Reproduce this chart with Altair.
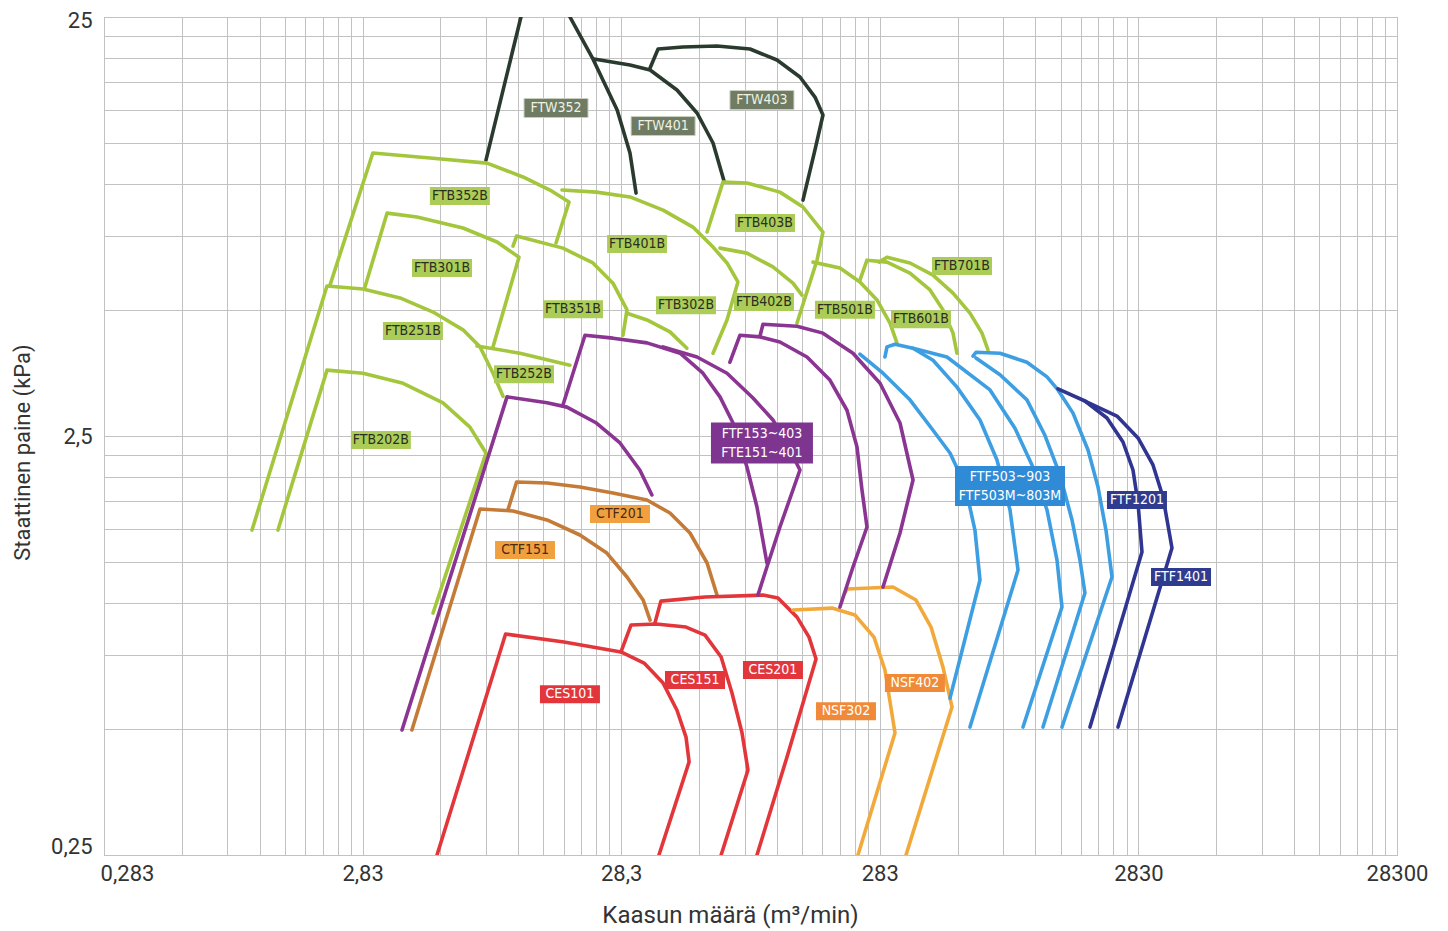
import altair as alt
import pandas as pd

# ---------------- axis ticks ----------------
x_tick_values = [0.283, 2.83, 28.3, 283, 2830, 28300]
x_tick_labels = ["0,283", "2,83", "28,3", "283", "2830", "28300"]
y_tick_values = [0.25, 2.5, 25]
y_tick_labels = ["0,25", "2,5", "25"]

x_grid = [round(0.283 * k * 10 ** d, 6) for d in range(5) for k in range(1, 10)] + [28300]
y_grid = [round(0.25 * k * 10 ** d, 6) for d in range(2) for k in range(1, 10)] + [25]

# ---------------- curves (m3/min, kPa) ----------------
ftw352a_x = [8.49, 11.59]
ftw352a_y = [11.39, 25.0]
ftw352b_x = [17.93, 22.0, 27.3, 30.6, 32.3]
ftw352b_y = [25.0, 19.85, 15.0, 11.84, 9.50]
ftw401_x = [22.2, 30.6, 36.6, 46.5, 55.6, 64.1, 70.7]
ftw401_y = [19.85, 19.2, 18.68, 16.74, 14.75, 12.51, 10.15]
ftw403_x = [36.6, 39.3, 49.0, 66.4, 89.1, 113.3, 139.0, 158.9, 170.6, 158.9, 142.8]
ftw403_y = [18.89, 20.97, 21.2, 21.32, 20.97, 19.74, 17.98, 16.1, 14.59, 12.04, 9.14]

ftb352b_x = [2.117, 3.10, 5.16, 8.57, 11.80, 15.01, 17.78, 15.84]
ftb352b_y = [5.73, 11.84, 11.52, 11.2, 10.38, 9.66, 9.04, 7.22]
ftb301b_x = [2.89, 3.52, 4.59, 6.92, 9.37, 11.39, 9.04]
ftb301b_y = [5.67, 8.51, 8.33, 7.84, 7.26, 6.68, 4.08]
ftb251b_x = [1.057, 2.061, 2.84, 3.95, 5.30, 6.92, 8.05, 9.04, 9.88]
ftb251b_y = [1.491, 5.70, 5.61, 5.34, 4.94, 4.48, 4.08, 3.53, 3.11]
ftb252b_x = [7.84, 11.49, 17.93]
ftb252b_y = [4.10, 3.94, 3.69]
ftb202b_x = [1.332, 2.061, 2.84, 4.06, 5.79, 7.36, 8.49, 5.30]
ftb202b_y = [1.491, 3.59, 3.53, 3.34, 3.00, 2.625, 2.277, 0.945]
ftb351b_x = [10.80, 11.15, 16.85, 22.0, 26.3, 29.8, 28.75]
ftb351b_y = [7.10, 7.50, 7.02, 6.47, 5.79, 5.0, 4.35]
ftb302b_x = [29.8, 35.6, 43.7, 50.8]
ftb302b_y = [4.91, 4.73, 4.43, 4.05]
ftb401b_x = [16.7, 22.7, 30.6, 41.1, 53.6, 64.1, 72.6, 80.0, 72.6, 64.1]
ftb401b_y = [9.66, 9.55, 9.30, 8.65, 7.88, 7.06, 6.47, 5.83, 4.73, 3.94]
ftb403b_x = [60.8, 70.0, 86.7, 116.3, 142.8, 170.6, 161.8, 135.4]
ftb403b_y = [7.67, 10.09, 10.04, 9.55, 8.80, 7.67, 6.57, 4.65]
ftb402b_x = [68.2, 86.7, 109.3, 130.6, 141.5]
ftb402b_y = [7.02, 6.83, 6.33, 5.79, 5.42]
ftb501b_x = [156.1, 198.5, 237.1, 276.0, 309.9, 329.7]
ftb501b_y = [6.50, 6.29, 5.83, 5.28, 4.65, 4.17]
ftb601b_x = [237.1, 252.5, 301.7, 370.2, 442.6, 496.7, 543.1, 562.6]
ftb601b_y = [5.89, 6.57, 6.50, 6.12, 5.58, 5.0, 4.40, 3.94]
ftb701b_x = [281.0, 301.7, 370.2, 454.6, 543.1, 631.7, 703.0, 741.7]
ftb701b_y = [6.50, 6.68, 6.47, 6.05, 5.48, 4.91, 4.40, 4.01]

ctf151_x = [4.39, 8.05, 10.80, 14.62, 19.6, 24.9, 29.8, 34.4, 36.6]
ctf151_y = [0.497, 1.674, 1.656, 1.576, 1.451, 1.314, 1.152, 1.015, 0.909]
ctf201_x = [10.32, 11.15, 14.62, 19.6, 26.3, 35.6, 43.7, 52.2, 60.8, 66.4]
ctf201_y = [1.665, 1.941, 1.931, 1.889, 1.828, 1.759, 1.637, 1.467, 1.244, 1.043]

ces101_x = [5.49, 10.11, 17.0, 28.25, 34.7, 41.1, 46.5, 50.4, 51.8, 39.6]
ces101_y = [0.25, 0.842, 0.806, 0.763, 0.718, 0.643, 0.554, 0.478, 0.417, 0.25]
ces151_x = [28.25, 30.9, 38.6, 50.4, 59.7, 68.9, 75.9, 83.0, 87.5, 68.9]
ces151_y = [0.763, 0.885, 0.890, 0.875, 0.837, 0.742, 0.609, 0.489, 0.399, 0.25]
ces201_x = [38.2, 40.3, 59.7, 100.0, 114.3, 135.4, 150.7, 160.4, 122.8, 94.8]
ces201_y = [0.894, 1.009, 1.032, 1.043, 1.026, 0.924, 0.828, 0.734, 0.421, 0.25]
nsf302_x = [130.6, 184.9, 226.8, 268.7, 296.3, 324.0, 233.0]
nsf302_y = [0.961, 0.971, 0.935, 0.828, 0.691, 0.489, 0.25]
nsf402_x = [207.5, 211.3, 318.3, 390.5, 446.5, 496.7, 538.3, 357.4]
nsf402_y = [1.055, 1.078, 1.090, 1.015, 0.875, 0.702, 0.564, 0.25]

ftf1_x = [4.02, 10.24, 14.62, 17.46, 22.7, 28.0, 33.4, 37.2]
ftf1_y = [0.497, 3.10, 3.00, 2.93, 2.685, 2.406, 2.074, 1.808]
ftf2_x = [16.85, 20.5, 26.3, 35.6, 47.8, 58.6, 68.2, 76.6, 86.7, 94.8, 103.6]
ftf2_y = [2.965, 4.35, 4.28, 4.17, 3.94, 3.53, 3.10, 2.685, 2.108, 1.692, 1.244]
ftf3_x = [41.1, 55.6, 72.6, 91.5, 109.3, 127.1, 139.0, 116.3, 103.6, 95.6]
ftf3_y = [4.08, 3.86, 3.53, 3.08, 2.73, 2.315, 2.074, 1.516, 1.217, 1.043]
ftf4_x = [74.5, 81.5, 97.4, 116.3, 148.0, 181.5, 211.3, 231.0, 241.5, 252.5, 222.9, 198.5]
ftf4_y = [3.75, 4.35, 4.31, 4.19, 3.86, 3.40, 2.88, 2.353, 1.858, 1.516, 1.217, 0.977]
ftf5_x = [97.4, 100.0, 135.4, 170.6, 222.9, 283.6, 338.8, 380.4, 338.8, 291.2]
ftf5_y = [4.33, 4.62, 4.57, 4.40, 3.94, 3.34, 2.685, 1.963, 1.467, 1.090]

ftfb1_x = [237.1, 291.2, 370.2, 454.6, 528.7, 604.2, 660.2, 690.6, 528.7]
ftfb1_y = [3.92, 3.53, 3.05, 2.58, 2.277, 1.910, 1.491, 1.133, 0.592]
ftfb2_x = [296.3, 301.7, 324.0, 380.4, 454.6, 562.6, 690.6, 803.4, 902.2, 969.0, 631.7]
ftfb2_y = [3.86, 4.08, 4.14, 4.05, 3.79, 3.27, 2.73, 2.191, 1.665, 1.197, 0.505]
ftfb3_x = [380.4, 514.7, 755.0, 942.9, 1097, 1254, 1371, 1433, 1013]
ftfb3_y = [4.05, 3.86, 3.22, 2.61, 2.132, 1.665, 1.264, 0.977, 0.505]
ftfb4_x = [666.3, 825.3, 1049, 1231, 1408, 1567, 1682, 1758, 1210]
ftfb4_y = [3.84, 3.50, 3.05, 2.51, 2.018, 1.576, 1.264, 1.055, 0.505]
ftfb5_x = [648.9, 666.3, 825.3, 1049, 1254, 1383, 1581, 1807, 1975, 2120, 2237, 1433]
ftfb5_y = [3.88, 3.96, 3.94, 3.75, 3.46, 3.22, 2.835, 2.315, 1.889, 1.491, 1.152, 0.505]
ftf1201_x = [1383, 1758, 2139, 2467, 2697, 2820, 2922, 1839]
ftf1201_y = [3.24, 3.03, 2.76, 2.419, 2.074, 1.730, 1.321, 0.505]
ftf1401_x = [1758, 2338, 2820, 3222, 3523, 3816, 2360]
ftf1401_y = [3.03, 2.79, 2.473, 2.132, 1.788, 1.351, 0.505]

curves = [
    ("FTW352a", "FTW", ftw352a_x, ftw352a_y),
    ("FTW352b", "FTW", ftw352b_x, ftw352b_y),
    ("FTW401", "FTW", ftw401_x, ftw401_y),
    ("FTW403", "FTW", ftw403_x, ftw403_y),
    ("FTB352B", "FTB", ftb352b_x, ftb352b_y),
    ("FTB301B", "FTB", ftb301b_x, ftb301b_y),
    ("FTB251B", "FTB", ftb251b_x, ftb251b_y),
    ("FTB252B", "FTB", ftb252b_x, ftb252b_y),
    ("FTB202B", "FTB", ftb202b_x, ftb202b_y),
    ("FTB351B", "FTB", ftb351b_x, ftb351b_y),
    ("FTB302B", "FTB", ftb302b_x, ftb302b_y),
    ("FTB401B", "FTB", ftb401b_x, ftb401b_y),
    ("FTB403B", "FTB", ftb403b_x, ftb403b_y),
    ("FTB402B", "FTB", ftb402b_x, ftb402b_y),
    ("FTB501B", "FTB", ftb501b_x, ftb501b_y),
    ("FTB601B", "FTB", ftb601b_x, ftb601b_y),
    ("FTB701B", "FTB", ftb701b_x, ftb701b_y),
    ("CTF151", "CTF", ctf151_x, ctf151_y),
    ("CTF201", "CTF", ctf201_x, ctf201_y),
    ("CES101", "CES", ces101_x, ces101_y),
    ("CES151", "CES", ces151_x, ces151_y),
    ("CES201", "CES", ces201_x, ces201_y),
    ("NSF302", "NSF", nsf302_x, nsf302_y),
    ("NSF402", "NSF", nsf402_x, nsf402_y),
    ("FTF-1", "FTF", ftf1_x, ftf1_y),
    ("FTF-2", "FTF", ftf2_x, ftf2_y),
    ("FTF-3", "FTF", ftf3_x, ftf3_y),
    ("FTF-4", "FTF", ftf4_x, ftf4_y),
    ("FTF-5", "FTF", ftf5_x, ftf5_y),
    ("FTFB-1", "FTF5", ftfb1_x, ftfb1_y),
    ("FTFB-2", "FTF5", ftfb2_x, ftfb2_y),
    ("FTFB-3", "FTF5", ftfb3_x, ftfb3_y),
    ("FTFB-4", "FTF5", ftfb4_x, ftfb4_y),
    ("FTFB-5", "FTF5", ftfb5_x, ftfb5_y),
    ("FTF1201", "FTF12", ftf1201_x, ftf1201_y),
    ("FTF1401", "FTF12", ftf1401_x, ftf1401_y),
]

# ---------------- labels ----------------
label_text = ["FTW352", "FTW401", "FTW403", "FTB352B", "FTB301B", "FTB401B", "FTB403B",
              "FTB701B", "FTB351B", "FTB302B", "FTB402B", "FTB501B", "FTB601B", "FTB251B",
              "FTB252B", "FTB202B", "FTF153~403\nFTE151~401", "FTF503~903\nFTF503M~803M",
              "FTF1201", "FTF1401", "CTF201", "CTF151", "CES101", "CES151", "CES201",
              "NSF302", "NSF402"]
label_x = [15.84, 41.1, 99.1, 6.73, 5.74, 32.6, 101.8, 588.4, 18.42, 50.4, 100.9, 207.5,
           408.4, 4.43, 11.91, 3.33, 99.1, 902.2, 2794, 4136, 28.0, 12.02, 17.93, 54.6,
           109.3, 209.4, 386.9]
label_y = [15.16, 13.73, 15.84, 9.35, 6.29, 7.18, 8.06, 6.36, 5.02, 5.13, 5.22, 5.0, 4.75,
           4.45, 3.51, 2.446, 2.406, 1.899, 1.759, 1.152, 1.628, 1.336, 0.605, 0.654,
           0.691, 0.551, 0.643]
label_group = ["FTW", "FTW", "FTW"] + ["FTB"] * 13 + ["FTF", "FTF5", "FTF12", "FTF12",
               "CTF", "CTF", "CES", "CES", "CES", "NSF", "NSF"]

groups = ["FTW", "FTB", "FTF", "FTF5", "FTF12", "CTF", "CES", "NSF"]
line_colors = ["#2a3a2e", "#a3c63c", "#8b3592", "#3d9fe2", "#2f3590", "#c47b38", "#e3363a", "#f2a93b"]
box_colors = ["#6f7b63", "#abcd58", "#7e3590", "#2f8bd6", "#2f3b8e", "#f1a040", "#e2363c", "#f08a38"]
text_colors = ["#eef2e2", "#2c2d22", "#ffffff", "#ffffff", "#ffffff", "#4a2a10", "#ffffff", "#ffffff"]

rows = []
for name, g, xs, ys in curves:
    for i, (xv, yv) in enumerate(zip(xs, ys)):
        rows.append({"curve": name, "group": g, "i": i, "x": xv, "y": yv})
lines_df = pd.DataFrame(rows)
labels_df = pd.DataFrame({"text": label_text, "x": label_x, "y": label_y, "group": label_group})


def label_expr(vals, labs):
    parts = [f"abs(datum.value - {v}) < {v * 0.01} ? '{l}' : " for v, l in zip(vals, labs)]
    return "".join(parts) + "''"


FONT = "Roboto"
x_scale = alt.Scale(type="log", domain=[0.283, 28300], nice=False)
y_scale = alt.Scale(type="log", domain=[0.25, 25], nice=False)

x_axis = alt.Axis(values=x_grid, labelExpr=label_expr(x_tick_values, x_tick_labels),
                  grid=True, gridColor="#c2c2c2", gridWidth=1, ticks=False, domain=False,
                  labelOverlap=False, labelFlush=False, labelFont=FONT, labelFontSize=22,
                  labelColor="#333333", labelPadding=8,
                  labelOffset={"condition": {"test": "datum.value < 1", "value": 23}, "value": 0},
                  title="Kaasun määrä (m³/min)", titleFont=FONT, titleFontSize=24,
                  titleFontWeight="normal", titleColor="#333333", titleX=626, titleY=60,
                  titleBaseline="middle")
y_axis = alt.Axis(values=y_grid, labelExpr=label_expr(y_tick_values, y_tick_labels),
                  grid=True, gridColor="#c2c2c2", gridWidth=1, ticks=False, domain=False,
                  labelOverlap=False, labelFlush=False, labelFont=FONT, labelFontSize=22,
                  labelColor="#333333", labelPadding=12,
                  labelOffset={"condition": [{"test": "datum.value < 0.3", "value": -9},
                                             {"test": "datum.value > 20", "value": 3}],
                               "value": 0},
                  title="Staattinen paine (kPa)", titleFont=FONT, titleFontSize=22,
                  titleFontWeight="normal", titleColor="#333333", titleX=-82, titleY=435,
                  titleBaseline="middle")

xy = dict(x=alt.X("x:Q", scale=x_scale, axis=x_axis),
          y=alt.Y("y:Q", scale=y_scale, axis=y_axis))

lines = alt.Chart(lines_df).mark_line(strokeWidth=3.6, strokeJoin="round", strokeCap="round",
                                      clip=True).encode(
    detail="curve:N",
    order="i:Q",
    color=alt.Color("group:N", scale=alt.Scale(domain=groups, range=line_colors), legend=None),
    **xy,
)

fill_enc = alt.Fill("group:N", scale=alt.Scale(domain=groups, range=box_colors), legend=None)
text_color = alt.Color("group:N", scale=alt.Scale(domain=groups, range=text_colors), legend=None)
base_lab = alt.Chart(labels_df)

rect_ftw = base_lab.transform_filter("datum.group == 'FTW'").mark_rect(
    width=64, height=19, stroke="#c9cfbf", strokeWidth=1).encode(fill=fill_enc, **xy)
rect_small = base_lab.transform_filter(
    "datum.group != 'FTW' && datum.group != 'FTF' && datum.group != 'FTF5'").mark_rect(
    width=60, height=18).encode(fill=fill_enc, **xy)
rect_ftf = base_lab.transform_filter("datum.group == 'FTF'").mark_rect(
    width=102, height=41).encode(fill=fill_enc, **xy)
rect_ftf5 = base_lab.transform_filter("datum.group == 'FTF5'").mark_rect(
    width=110, height=40).encode(fill=fill_enc, **xy)

LABEL_FONT = "DejaVu Sans Condensed, Liberation Sans Narrow, Roboto"
texts_single = base_lab.transform_filter(
    "datum.group != 'FTF' && datum.group != 'FTF5'").mark_text(
    font=LABEL_FONT, fontSize=14, align="center", baseline="middle").encode(
    text="text:N", color=text_color, **xy)
texts_multi = base_lab.transform_filter(
    "datum.group == 'FTF' || datum.group == 'FTF5'").mark_text(
    font=LABEL_FONT, fontSize=14, lineBreak="\n", lineHeight=19, align="center",
    baseline="middle", dy=-9).encode(
    text="text:N", color=text_color, **xy)

chart = alt.layer(lines, rect_ftw, rect_small, rect_ftf, rect_ftf5, texts_single,
                  texts_multi).resolve_scale(
    color="independent"
).properties(
    width=1293, height=838,
    padding={"left": 96, "top": 9, "right": 42, "bottom": 74},
    autosize=alt.AutoSizeParams(type="none"),
    background="#ffffff",
).configure_view(stroke="#9a9a9a", strokeWidth=1)

chart.save("out.html", embed_options={"renderer": "svg", "actions": False})
